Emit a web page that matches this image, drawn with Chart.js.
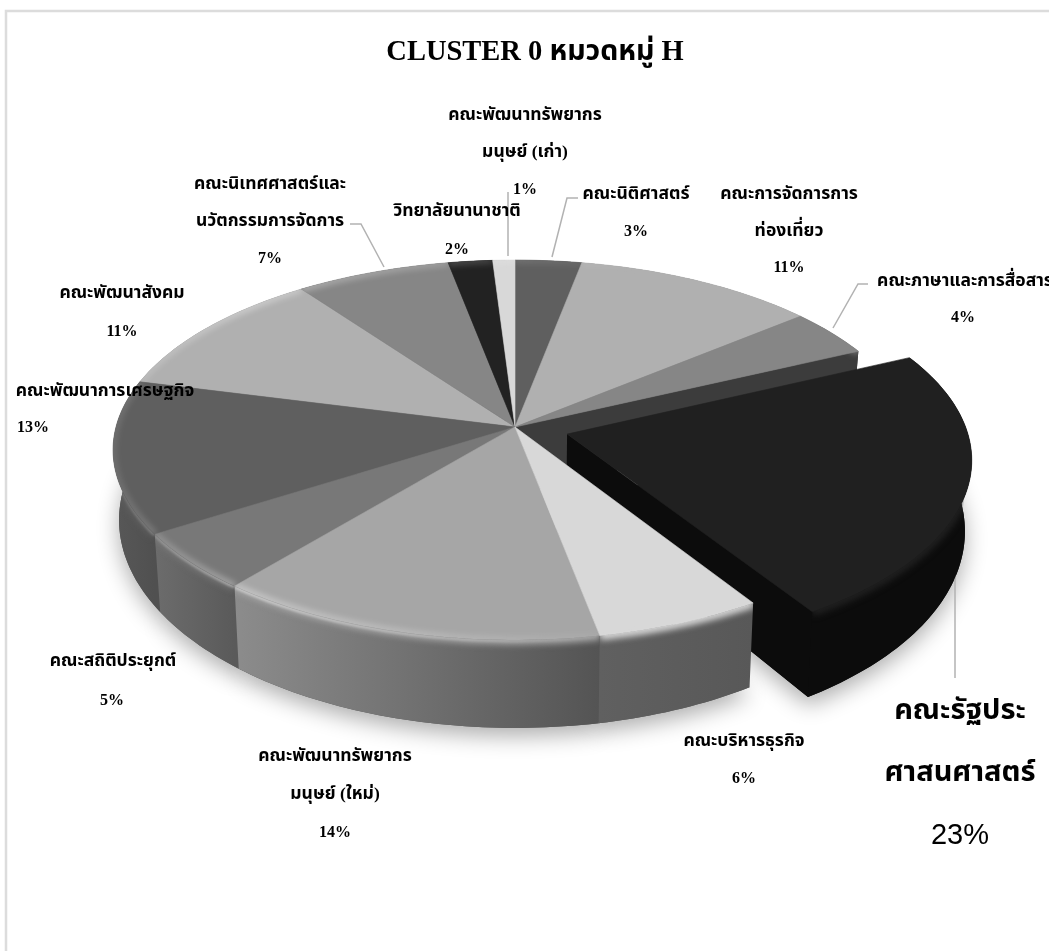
<!DOCTYPE html>
<html lang="th">
<head>
<meta charset="utf-8">
<title>CLUSTER 0 หมวดหมู่ H</title>
<script src="https://cdn.jsdelivr.net/npm/chart.js@4"></script>
<style>
  html, body { margin: 0; padding: 0; background: #fff; overflow: hidden; }
  canvas { display: block; }
</style>
</head>
<body>
<canvas id="myChart" width="1049" height="951"></canvas>
<script>
const chartTitle = 'CLUSTER 0 หมวดหมู่ H';
const faculties = [
    'คณะนิติศาสตร์', 'คณะการจัดการการท่องเที่ยว', 'คณะภาษาและการสื่อสาร', 'คณะรัฐประศาสนศาสตร์',
    'คณะบริหารธุรกิจ', 'คณะพัฒนาทรัพยากรมนุษย์ (ใหม่)', 'คณะสถิติประยุกต์', 'คณะพัฒนาการเศรษฐกิจ',
    'คณะพัฒนาสังคม', 'คณะนิเทศศาสตร์และนวัตกรรมการจัดการ', 'วิทยาลัยนานาชาติ', 'คณะพัฒนาทรัพยากรมนุษย์ (เก่า)'
];
const shares = [3, 11, 4, 23, 6, 14, 5, 13, 11, 7, 2, 1];

// slice colours: top face, then the outer wall from left to right
const topColors = ['#5f5f5f', '#b0b0b0', '#868686', '#202020', '#d8d8d8', '#a6a6a6', '#787878', '#5f5f5f', '#b0b0b0', '#868686', '#222222', '#d8d8d8'];
const wallLeft = ['#4a4a4a', '#6a6a6a', '#3c3c3c', '#0c0c0c', '#606060', '#8c8c8c', '#6c6c6c', '#585858', '#666666', '#555555', '#222222', '#888888'];
const wallRight = ['#4a4a4a', '#6a6a6a', '#3c3c3c', '#0c0c0c', '#585858', '#545454', '#5a5a5a', '#505050', '#666666', '#555555', '#222222', '#888888'];

const explodeOffset = [0, 0, 0, 54, 0, 0, 0, 0, 0, 0, 0, 0];

// wrapped text of each slice label and where it sits
const labelLines = [
    ['คณะนิติศาสตร์'], ['คณะการจัดการการ', 'ท่องเที่ยว'], ['คณะภาษาและการสื่อสาร'], ['คณะรัฐประ', 'ศาสนศาสตร์'],
    ['คณะบริหารธุรกิจ'], ['คณะพัฒนาทรัพยากร', 'มนุษย์ (ใหม่)'], ['คณะสถิติประยุกต์'], ['คณะพัฒนาการเศรษฐกิจ'],
    ['คณะพัฒนาสังคม'], ['คณะนิเทศศาสตร์และ', 'นวัตกรรมการจัดการ'], ['วิทยาลัยนานาชาติ'], ['คณะพัฒนาทรัพยากร', 'มนุษย์ (เก่า)']
];
const labelX = [636, 789, 965, 960, 744, 335, 113, 105, 122, 270, 457, 525];
const labelY = [193, 193, 280, 710, 740, 755, 660, 390, 292, 183, 210, 114];
const labelGap = [37, 36.5, 36, 62, 37, 38, 39, 36, 38, 37, 38, 37];
const percentX = [636, 789, 963, 960, 744, 335, 112, 33, 122, 270, 457, 525];

const leaderLines = [
    [[578, 198], [567, 198], [552, 257]],
    [[868, 284], [858, 284], [833, 328]],
    [[963, 500], [955, 575], [955, 678]],
    [[350, 224], [361, 224], [384, 267]],
    [[508, 192], [508, 256]]
];

const SERIF = '"Liberation Serif", "Noto Sans Thai", "Noto Serif Thai", serif';
const tilt = 0.121;
const squash = 0.469;
const depth = 68;

// perspective view of a point on the pie plane, optionally on the underside
function project(arc, angle, frac, onBase, shift) {
    const u = Math.cos(angle) * frac + shift.x;
    const v = Math.sin(angle) * frac + shift.y;
    const w = 1 - tilt * v;
    let x = arc.outerRadius * u / w;
    let y = arc.outerRadius * squash * v / w;
    if (onBase) {
        x *= 0.985;
        y += depth / (w * w);
    }
    return { x: arc.x + x, y: arc.y + y };
}

function rimPoints(arc, onBase, shift) {
    const pts = [];
    const steps = Math.max(2, Math.ceil((arc.endAngle - arc.startAngle) / 0.02));
    for (let i = 0; i <= steps; i++) {
        const a = arc.startAngle + (arc.endAngle - arc.startAngle) * i / steps;
        pts.push(project(arc, a, 1, onBase, shift));
    }
    return pts;
}

function tracePath(ctx, pts, close) {
    ctx.beginPath();
    pts.forEach((p, i) => (i ? ctx.lineTo(p.x, p.y) : ctx.moveTo(p.x, p.y)));
    if (close) ctx.closePath();
}

function rimGlow(ctx) {
    const g = ctx.createLinearGradient(113, 0, 640, 0);
    g.addColorStop(0, 'rgba(255,255,255,0.12)');
    g.addColorStop(0.26, 'rgba(255,255,255,0.42)');
    g.addColorStop(0.65, 'rgba(255,255,255,0.22)');
    g.addColorStop(1, 'rgba(255,255,255,0)');
    return g;
}

function drawWalls(ctx, arc, i, shift, cutWall) {
    const rimTop = rimPoints(arc, false, shift);
    const rimBase = rimPoints(arc, true, shift);

    // wall along the clockwise radial edge, where the exploded slice opened the pie
    if (cutWall) {
        const apexTop = project(arc, 0, 0, false, shift);
        const apexBase = project(arc, 0, 0, true, shift);
        ctx.fillStyle = wallRight[i];
        tracePath(ctx, [apexTop, rimTop[rimTop.length - 1], rimBase[rimBase.length - 1], apexBase], true);
        ctx.fill();
    }

    // outer wall
    const wall = rimTop.concat(rimBase.slice().reverse());
    const xs = rimTop.map(p => p.x);
    const grad = ctx.createLinearGradient(Math.min(...xs), 0, Math.max(...xs), 0);
    grad.addColorStop(0, wallLeft[i]);
    grad.addColorStop(1, wallRight[i]);
    ctx.fillStyle = grad;
    tracePath(ctx, wall, true);
    ctx.fill();

    // soft bevel where the top face rolls over into the wall
    ctx.save();
    tracePath(ctx, wall, true);
    ctx.clip();
    ctx.filter = 'blur(3px)';
    ctx.strokeStyle = topColors[i];
    ctx.lineWidth = 9;
    tracePath(ctx, rimTop, false);
    ctx.stroke();
    ctx.filter = 'blur(1px)';
    ctx.strokeStyle = rimGlow(ctx);
    ctx.lineWidth = 3;
    tracePath(ctx, rimTop.map(p => ({ x: p.x, y: p.y + 1 })), false);
    ctx.stroke();
    ctx.restore();
}

function drawTop(ctx, arc, i, shift) {
    const rimTop = rimPoints(arc, false, shift);
    const top = [project(arc, 0, 0, false, shift)].concat(rimTop);
    ctx.fillStyle = topColors[i];
    tracePath(ctx, top, true);
    ctx.fill();
    ctx.strokeStyle = topColors[i];
    ctx.lineWidth = 0.6;
    ctx.stroke();

    ctx.save();
    tracePath(ctx, top, true);
    ctx.clip();
    ctx.filter = 'blur(3px)';
    ctx.strokeStyle = rimGlow(ctx);
    ctx.lineWidth = 6;
    tracePath(ctx, rimTop, false);
    ctx.stroke();
    ctx.restore();
}

const tiltedPie = {
    id: 'tiltedPie',
    beforeDatasetDraw(chart) {
        const ctx = chart.ctx;
        const arcs = chart.getDatasetMeta(0).data;
        const shifts = arcs.map(arc => {
            const mid = (arc.startAngle + arc.endAngle) / 2;
            const d = arc.options.offset / arc.outerRadius;
            return { x: Math.cos(mid) * d, y: Math.sin(mid) * d };
        });
        const exploded = arcs.findIndex(arc => arc.options.offset > 0);

        // ground shadow under everything
        ctx.save();
        ctx.shadowColor = 'rgba(0,0,0,0.32)';
        ctx.shadowBlur = 22;
        ctx.shadowOffsetY = 8;
        arcs.forEach((arc, i) => {
            const base = [project(arc, 0, 0, true, shifts[i])].concat(rimPoints(arc, true, shifts[i]));
            ctx.fillStyle = wallRight[i];
            tracePath(ctx, base, true);
            ctx.fill();
        });
        ctx.restore();

        // leader lines run behind the pie
        ctx.save();
        ctx.strokeStyle = '#b2b2b2';
        ctx.lineWidth = 1.5;
        leaderLines.forEach(line => {
            tracePath(ctx, line.map(p => ({ x: p[0], y: p[1] })), false);
            ctx.stroke();
        });
        ctx.restore();

        // slices on the far half first, all their walls before any top face
        const isFront = arc => Math.sin((arc.startAngle + arc.endAngle) / 2) > -0.1;
        const indexes = arcs.map((_, i) => i).filter(i => i !== exploded);
        const back = indexes.filter(i => !isFront(arcs[i]));
        const front = indexes.filter(i => isFront(arcs[i])).reverse();
        back.forEach(i => drawWalls(ctx, arcs[i], i, shifts[i], i === exploded - 1));
        back.forEach(i => drawTop(ctx, arcs[i], i, shifts[i]));

        drawWalls(ctx, arcs[exploded], exploded, shifts[exploded], true);
        drawTop(ctx, arcs[exploded], exploded, shifts[exploded]);

        front.forEach(i => {
            drawWalls(ctx, arcs[i], i, shifts[i], false);
            drawTop(ctx, arcs[i], i, shifts[i]);
        });
        return false;
    },
    afterDraw(chart) {
        const ctx = chart.ctx;
        ctx.save();
        ctx.fillStyle = '#000';
        ctx.textAlign = 'center';
        ctx.textBaseline = 'middle';

        ctx.font = 'bold 28.5px ' + SERIF;
        ctx.fillText(chartTitle, 535, 53);

        shares.forEach((value, i) => {
            const big = explodeOffset[i] > 0;
            ctx.font = (big ? 'bold 29px ' : 'bold 17.5px ') + SERIF;
            labelLines[i].forEach((line, n) => {
                ctx.fillText(line, labelX[i], labelY[i] + 1.5 + n * labelGap[i]);
            });
            const pctY = labelY[i] + 1.5 + labelLines[i].length * labelGap[i];
            ctx.font = big ? '29px "Liberation Sans", Arial, sans-serif' : 'bold 16px ' + SERIF;
            ctx.fillText(value + '%', percentX[i], pctY);
        });
        ctx.restore();
    },
    beforeDraw(chart) {
        // chart frame, running off the right and bottom of the page
        const ctx = chart.ctx;
        ctx.save();
        ctx.fillStyle = '#fff';
        ctx.fillRect(0, 0, chart.width, chart.height);
        ctx.strokeStyle = '#dcdcdc';
        ctx.lineWidth = 2.5;
        ctx.strokeRect(6, 11, 1100, 1000);
        ctx.restore();
    }
};

const myChart = new Chart(document.getElementById('myChart').getContext('2d'), {
    type: 'pie',
    data: {
        labels: faculties,
        datasets: [{
            data: shares,
            backgroundColor: topColors,
            borderWidth: 0,
            offset: explodeOffset
        }]
    },
    options: {
        responsive: false,
        animation: false,
        radius: 399,
        layout: { padding: { left: 0, right: 19, top: 0, bottom: 97 } },
        plugins: {
            legend: { display: false },
            title: { display: false },
            tooltip: { enabled: false }
        }
    },
    plugins: [tiltedPie]
});
</script>
</body>
</html>
